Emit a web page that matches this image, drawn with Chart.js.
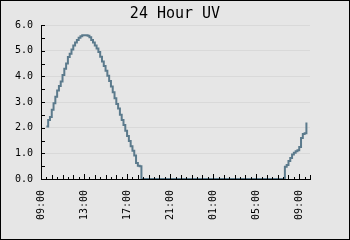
<!DOCTYPE html>
<html>
<head>
<meta charset="utf-8">
<script src="https://cdn.jsdelivr.net/npm/chart.js@4/dist/chart.umd.min.js"></script>
<style>
  html, body { margin: 0; padding: 0; background: #e6e6e6; }
  canvas { display: block; }
</style>
</head>
<body>
<canvas id="chart0" width="350" height="240"></canvas>
<script>
// readings, yesterday 09:30 to today 09:40
const times = [
    '09:30', '09:40', '09:50', '10:00', '10:10', '10:20', '10:30', '10:40', '10:50',
    '11:00', '11:10', '11:20', '11:30', '11:40', '11:50',
    '12:00', '12:10', '12:20', '12:30', '12:40', '12:50',
    '13:00', '13:10', '13:20', '13:30', '13:40', '13:50',
    '14:00', '14:10', '14:20', '14:30', '14:40', '14:50',
    '15:00', '15:10', '15:20', '15:30', '15:40', '15:50',
    '16:00', '16:10', '16:20', '16:30', '16:40', '16:50',
    '17:00', '17:10', '17:20', '17:30', '17:40', '17:50',
    '18:00', '18:10', '18:20',
    '07:30', '07:40', '07:50', '08:00', '08:10', '08:20', '08:30', '08:40', '08:50',
    '09:00', '09:10', '09:20', '09:30', '09:40'
];
const uv = [
    2.05, 2.3, 2.42, 2.7, 2.95, 3.2, 3.45, 3.62, 3.8,
    4.05, 4.3, 4.5, 4.75, 4.88, 5.05,
    5.2, 5.32, 5.42, 5.5, 5.56, 5.6,
    5.6, 5.6, 5.58, 5.52, 5.42, 5.32,
    5.2, 5.08, 4.95, 4.76, 4.58, 4.4,
    4.22, 4.02, 3.82, 3.6, 3.38, 3.15,
    2.92, 2.75, 2.5, 2.3, 2.1, 1.88,
    1.68, 1.48, 1.28, 1.1, 0.92, 0.62,
    0.52, 0.5, 0,
    0, 0.48, 0.55, 0.7, 0.82, 0.95, 1.02, 1.08, 1.12,
    1.25, 1.6, 1.75, 1.78, 2.2
];
const xTicks = ['09:00', '13:00', '17:00', '21:00', '01:00', '05:00', '09:00'];
const yTicks = [0, 1, 2, 3, 4, 5, 6];

const startHour = 9;

// minutes since the first 09:00, wrapping past midnight
function to_minutes(list) {
    let out = [];
    let day = 0;
    let last = -1;
    for (let i = 0; i < list.length; i++) {
        const [h, m] = list[i].split(':').map(Number);
        let mins = (h - startHour) * 60 + m;
        if (mins < 0) mins += 1440;
        mins += day;
        if (mins < last) { day += 1440; mins += 1440; }
        last = mins;
        out.push(mins);
    }
    return out;
}

const xs = to_minutes(times);
const points = xs.map((x, i) => ({ x: x, y: uv[i] }));

const framePlugin = {
    id: 'frame',
    beforeDraw(chart) {
        const c = chart.ctx;
        c.save();
        c.fillStyle = '#e6e6e6';
        c.fillRect(0, 0, chart.width, chart.height);
        c.restore();
    },
    afterDraw(chart) {
        const c = chart.ctx;
        const area = chart.chartArea;
        const xs_ = chart.scales.x;
        const ys_ = chart.scales.y;
        c.save();
        c.strokeStyle = '#000';
        c.lineWidth = 1;
        c.beginPath();
        // y ticks, pointing into the plot
        for (let v = 0; v <= 6; v += 0.5) {
            const y = Math.round(ys_.getPixelForValue(v)) + 0.5;
            c.moveTo(area.left, y);
            c.lineTo(area.left + 4, y);
        }
        // x ticks every half hour
        for (let m = 0; m <= 1500; m += 30) {
            const x = Math.round(xs_.getPixelForValue(m)) + 0.5;
            const len = m % 240 === 0 ? 5 : (m % 60 === 0 ? 4 : 2);
            c.moveTo(x, area.bottom);
            c.lineTo(x, area.bottom - len);
        }
        c.stroke();
        // outer border
        c.strokeRect(0.5, 0.5, chart.width - 1, chart.height - 1);
        c.restore();
    }
};

Chart.defaults.font.family = "'DejaVu Sans Mono', monospace";
Chart.defaults.font.size = 10;
Chart.defaults.color = '#000';

const ctx0 = document.getElementById('chart0').getContext('2d');
const chart0 = new Chart(ctx0, {
    type: 'line',
    data: {
        datasets: [{
            label: 'UV',
            data: points,
            borderColor: '#5b7a8c',
            backgroundColor: '#5b7a8c',
            borderWidth: 2,
            pointRadius: 0,
            stepped: true,
            fill: false,
        }]
    },
    options: {
        responsive: false,
        animation: false,
        devicePixelRatio: 1,
        layout: { padding: 0 },
        plugins: {
            legend: { display: false },
            tooltip: { enabled: false },
            title: {
                display: true,
                text: '24 Hour UV',
                color: '#000',
                font: { size: 15, weight: 'normal' },
                padding: { top: 5, bottom: 2 },
            },
        },
        scales: {
            x: {
                type: 'linear',
                min: 0,
                max: 1500,
                afterBuildTicks: (s) => { s.ticks = xTicks.map((_, i) => ({ value: i * 240 })); },
                afterFit: (s) => { s.height = 61; },
                ticks: {
                    autoSkip: false,
                    maxRotation: 90,
                    minRotation: 90,
                    padding: 11,
                    callback: (v, i) => xTicks[i],
                },
                grid: { display: false, drawTicks: false },
                border: { display: true, color: '#000', width: 1 },
            },
            y: {
                min: 0,
                max: 6,
                afterBuildTicks: (s) => { s.ticks = yTicks.map(v => ({ value: v })); },
                afterFit: (s) => { s.width = 41; },
                ticks: {
                    padding: 8,
                    callback: (v) => Number(v).toFixed(1),
                },
                grid: { color: '#d9d9d9', drawTicks: false },
                border: { display: true, color: '#000', width: 1 },
            },
            // empty right-hand margin, keeps the title centred on the canvas
            yRight: {
                position: 'right',
                min: 0,
                max: 6,
                afterFit: (s) => { s.width = 40; },
                ticks: { display: false },
                grid: { display: false, drawTicks: false },
                border: { display: false },
            },
        },
    },
    plugins: [framePlugin],
});
</script>
</body>
</html>
